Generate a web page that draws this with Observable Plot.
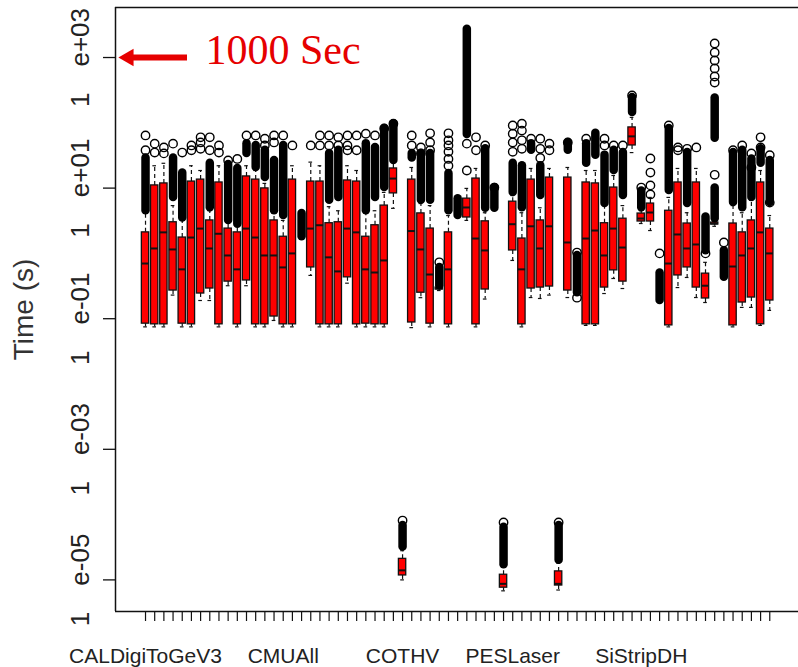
<!DOCTYPE html>
<html><head><meta charset="utf-8">
<script src="https://cdn.jsdelivr.net/npm/d3@7"></script>
<script src="https://cdn.jsdelivr.net/npm/@observablehq/plot@0.6"></script>
<style>
html,body{margin:0;padding:0;background:#fff;overflow:hidden;}
</style></head><body><div id="chart"></div>
<script>
// ---- data (seconds, log scale) ----
const positionCount = 69;
const labeledIndex = [1, 16, 29, 41, 55];
const labeledName = ["CALDigiToGeV3", "CMUAll", "COTHV", "PESLaser", "SiStripDH"];

const boxIndex   = [1,2,3,4,5,6,7,8,9,10,11,12,13,14,15,16,17,19,20,21,22,23,24,25,26,27,28,29,30,31,32,33,34,36,37,38,40,41,42,43,44,45,46,47,49,50,51,52,53,54,55,56,58,59,60,61,62,63,65,66,67,68,69];
const whiskerLow = [.075,.075,.075,.23,.075,.075,.19,.19,.075,.32,.075,.32,.075,.075,.094,.075,.075,.46,.075,.075,.075,.35,.075,.075,.075,.075,4.9,1.0e-5,.073,.21,.075,.27,.075,3.2,.075,.20,6.8e-6,.78,.075,.211,.204,.23,7.0e-6,.211,.079,.079,.243,.413,.29,35,2.87,2.24,.075,.30,.428,.211,.177,2.6,.075,.149,.149,.079,.134];
const quartile1  = [.084,.082,.082,.27,.084,.082,.243,.29,.082,.37,.082,.385,.082,.082,.108,.082,.082,.61,.082,.082,.082,.43,.082,.084,.082,.082,8.3,1.17e-5,.0875,.25,.084,.28,.082,3.55,.082,.28,7.6e-6,1.11,.082,.29,.30,.311,8.2e-6,.27,.082,.082,.30,.55,.37,45,3.08,3.08,.079,.46,.61,.30,.204,2.77,.079,.177,.211,.082,.19];
const median     = [.70,1.19,2.1,1.15,.57,1.75,2.4,1.19,2.0,.93,.57,2.4,1.75,.93,.93,.61,1.0,2.4,2.7,.87,.53,2.4,2.1,.57,.51,.78,14,1.4e-5,2.2,1.15,.475,.29,.57,5.05,1.69,1.11,8.7e-6,2.8,.57,2.6,1.19,2.6,8.7e-6,1.47,1.69,2.24,.93,2.4,1.23,62,3.42,4.23,.70,1.95,1.19,1.37,.32,2.87,.63,.93,1.19,2.1,1.0];
const quartile3  = [2.1,11,11.8,3.0,1.75,12.6,13.5,3.2,12.2,2.4,2.1,15.1,13.5,9.9,3.2,1.8,13.5,12.6,12.6,2.9,3.0,13.1,12.6,1.8,2.7,5.4,20,2.1e-5,13.5,4.1,2.4,.30,2.1,6.9,14,3.1,1.2e-5,6.2,1.69,13.5,3.2,14.5,1.35e-5,14.5,12.2,11.8,2.9,10.2,3.4,85,4.08,5.8,4.5,12.2,2.87,12.2,.49,2.97,2.87,2.1,3.2,12.2,2.4];
const whiskerHigh= [4.2,22,24,5.4,3.2,22,18.6,4.5,22,3.0,2.6,22,18.6,11.8,4.1,3.2,22,25,22,5.2,4.5,22,18.6,4.2,4.5,8.6,25,2.8e-5,20.7,5.8,5.4,.31,3.8,9.9,20,4.2,1.6e-5,7.7,4.2,20,5.0,20,1.8e-5,20.7,18.6,18.6,5.4,15.6,5.4,121,4.5,7.2,7.2,20,4.2,20,.73,3.1,5.4,4.2,6.5,18.6,3.8];

// dense clusters of outliers: [position, lowest, highest]
const outlierClusters = [
  [1,4.5,29],[4,7.2,29],[5,3.5,17],[8,5,24],[10,3.2,23],[11,2.8,20],[12,34,48],[13,20.7,45],
  [14,14.5,38],[15,4.5,26.5],[16,3.8,45],[18,1.8,4.1],[21,6.5,34],[22,7.2,38],[25,4.5,48],
  [26,7.2,42],[27,10.2,82],[28,26.5,97],[29,3.2e-5,6.8e-5],[30,29,34],[31,6.5,34],[32,6.5,34],
  [33,.32,.61],[34,4.5,16.7],[35,3.8,6.9],[36,66,2700],[38,4.9,40],[39,4.9,10.2],
  [40,1.7e-5,6.4e-5],[41,8.6,24],[42,5.0,22],[43,38,48],[44,7.7,22],[46,2.0e-5,6.8e-5],
  [47,38,50],[48,.25,.93],[49,24,48],[50,32,69],[51,5.8,32],[52,18.6,38],[53,7.7,35],
  [54,144,244],[55,5,9],[57,.19,.50],[58,9.2,82],[60,5.8,35],[62,1.1,3.6],[63,3.4,10],
  [63,58,240],[64,.43,1.1],[65,6.0,35],[66,5.0,38],[67,7.2,28],[68,24,40],[69,6.0,26.5]
];

// separate outlier circles: [position, [values]]
const outlierPoints = [
  [1,[64,38]],[2,[48,35]],[3,[42,34]],[4,[48]],[5,[35]],[6,[45,38]],[7,[60,50,40]],[8,[60,38]],
  [9,[45,35]],[10,[26.5]],[11,[28]],[12,[64]],[13,[64]],[14,[57,45]],[15,[64,50]],[16,[64]],
  [17,[45]],[19,[45]],[20,[64,45]],[21,[64,45]],[22,[60,45]],[23,[64,45,38]],[24,[64,38]],
  [25,[68]],[26,[64]],[27,[82]],[28,[97]],[29,[8.1e-5]],[30,[64,45]],[31,[42,34]],
  [32,[69,50,38]],[33,[.73]],[34,[69,54,45,36,28,22]],[36,[48,18.6]],[37,[60,38]],[38,[45]],
  [39,[10.2]],[40,[7.6e-5]],[41,[91,68,50,36]],[42,[97,76,54,40]],[43,[57]],[44,[57,40,29]],
  [45,[48,38]],[46,[7.6e-5]],[47,[50]],[48,[1.03,.21]],[49,[57]],[51,[57,45]],[52,[45]],
  [53,[45]],[54,[262]],[55,[10.2]],[56,[28.4,17.3,11,8]],[57,[1.0]],[58,[91]],[59,[42,38]],
  [60,[40]],[61,[42]],[62,[1.0]],[63,[16,1640,1190,900,680,512,414]],[64,[1.47]],[65,[38]],
  [66,[45]],[67,[34,20.7]],[68,[60,42]],[69,[32,6.0]]
];

const yTickValue = [1e3, 1e1, 1e-1, 1e-3, 1e-5];
const yTickText  = ["1e+03", "1e+01", "1e-01", "1e-03", "1e-05"];
const yLabel = "Time (s)";
const annotationValue = 1000;
const annotationText = "1000 Sec";

// ---- build tables ----
const boxes = boxIndex.map((i, k) => ({i, lo: whiskerLow[k], q1: quartile1[k], med: median[k], q3: quartile3[k], hi: whiskerHigh[k]}));
const clusters = outlierClusters.map(([i, lo, hi]) => ({i, lo, hi}));
const points = outlierPoints.flatMap(([i, vals]) => vals.map(v => ({i, v})));
const yTicks = yTickValue.map((v, k) => ({v, t: yTickText[k].replace("1e", "1\u2003e")}));
const nameOf = new Map(labeledIndex.map((i, k) => [i, labeledName[k]]));

const xDomain = [-2.27, 72.13];
const yDomain = [10 ** -5.484, 10 ** 3.766];
const RED = "#ff0000";
const INK = "#111";
const half = 0.4, staple = 0.2;

const chart = Plot.plot({
  width: 798, height: 667,
  marginLeft: 115, marginRight: 0, marginTop: 7, marginBottom: 56,
  style: {fontFamily: "'Liberation Sans', Arial, sans-serif", background: "#fff", overflow: "visible"},
  x: {domain: xDomain, label: null},
  y: {type: "log", domain: yDomain, label: null},
  marks: [
    // whiskers
    Plot.ruleX(boxes, {x: "i", y1: "q3", y2: "hi", stroke: INK, strokeWidth: 1.2, strokeDasharray: "4,3"}),
    Plot.ruleX(boxes, {x: "i", y1: "q1", y2: "lo", stroke: INK, strokeWidth: 1.2, strokeDasharray: "4,3"}),
    Plot.ruleY(boxes, {y: "hi", x1: d => d.i - staple, x2: d => d.i + staple, stroke: INK, strokeWidth: 1.2}),
    Plot.ruleY(boxes, {y: "lo", x1: d => d.i - staple, x2: d => d.i + staple, stroke: INK, strokeWidth: 1.2}),
    // boxes
    Plot.rect(boxes, {x1: d => d.i - half, x2: d => d.i + half, y1: "q1", y2: "q3", fill: RED, stroke: INK, strokeWidth: 1.3}),
    Plot.ruleY(boxes, {y: "med", x1: d => d.i - half, x2: d => d.i + half, stroke: INK, strokeWidth: 2}),
    // outliers
    Plot.ruleX(clusters, {x: "i", y1: "lo", y2: "hi", stroke: "#000", strokeWidth: 8.5, strokeLinecap: "round"}),
    Plot.dot(points, {x: "i", y: "v", r: 4.2, stroke: "#000", strokeWidth: 1.4, fill: "none"}),
    // frame (left, top, bottom)
    Plot.ruleX([xDomain[0]], {stroke: INK, strokeWidth: 1.5}),
    Plot.ruleY([yDomain[1]], {stroke: INK, strokeWidth: 1.5}),
    Plot.ruleY([yDomain[0]], {stroke: INK, strokeWidth: 1.5}),
    // axes
    Plot.axisX({ticks: d3.range(1, positionCount + 1), tickSize: 10, tickPadding: 27, fontSize: 21,
      tickFormat: i => nameOf.get(i) ?? "", stroke: INK, strokeWidth: 1.2, fill: "#222"}),
    Plot.axisY({ticks: yTickValue, tickSize: 12, tickFormat: () => "", stroke: INK, strokeWidth: 1.3}),
    Plot.text(yTicks, {y: "v", text: "t", frameAnchor: "left", textAnchor: "middle", dx: -35, rotate: -90, fontSize: 26, fill: "#222"}),
    Plot.text([yLabel], {frameAnchor: "left", textAnchor: "middle", dx: -91, rotate: -90, fontSize: 28, fill: "#333"}),
    // annotation
    Plot.ruleY([annotationValue], {insetLeft: 17, insetRight: 611, stroke: "#e60000", strokeWidth: 6}),
    Plot.dot([annotationValue], {y: d => d, frameAnchor: "left", dx: 13, symbol: "triangle", rotate: -90, r: 6.5, fill: "#e60000", stroke: "none"}),
    Plot.text([annotationValue], {y: d => d, text: () => annotationText, frameAnchor: "left", dx: 90, dy: -7,
      textAnchor: "start", fontSize: 42, fontFamily: "'Liberation Serif', 'Times New Roman', serif", fill: "#e60000"})
  ]
});
document.getElementById("chart").append(chart);
</script>
</body></html>
